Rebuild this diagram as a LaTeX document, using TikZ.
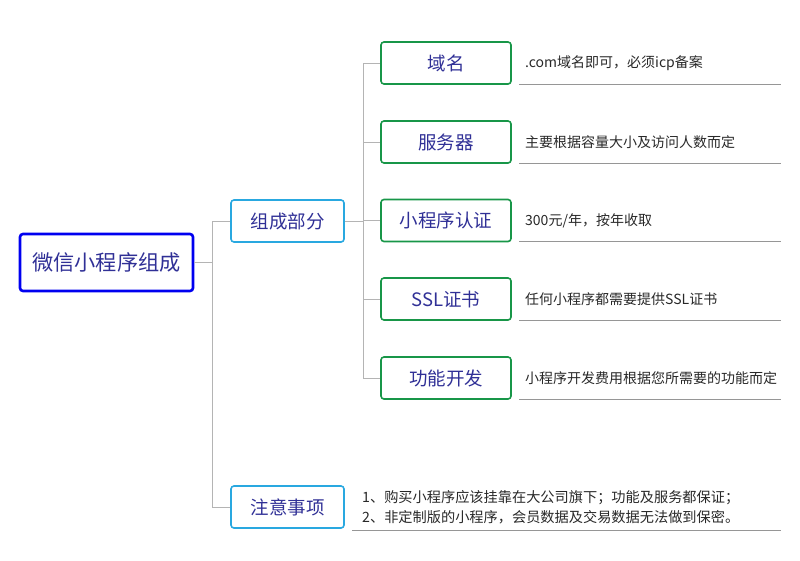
\documentclass[tikz,border=0pt]{standalone}
\usepackage{fontspec}
\setmainfont{Noto Sans CJK SC}
\definecolor{rootblue}{RGB}{0,0,240}
\definecolor{lblue}{RGB}{41,168,224}
\definecolor{mgreen}{RGB}{24,150,72}
\definecolor{ink}{RGB}{48,48,150}
\definecolor{txt}{RGB}{40,40,40}
\definecolor{conn}{RGB}{180,180,180}
\definecolor{uline}{RGB}{150,150,150}
\tikzset{
  rootbox/.style={draw=rootblue,line width=2.6pt,rounded corners=3pt,minimum width=173pt,minimum height=57pt,text=ink,font=\fontsize{21.2}{24}\selectfont,inner sep=0pt},
  midbox/.style={draw=lblue,line width=1.6pt,rounded corners=3pt,minimum width=113pt,minimum height=42pt,text=ink,font=\fontsize{18.5}{20}\selectfont,inner sep=0pt},
  leafbox/.style={draw=mgreen,line width=1.6pt,rounded corners=3pt,minimum width=130pt,minimum height=42pt,text=ink,font=\fontsize{18.5}{20}\selectfont,inner sep=0pt},
  lbl/.style={anchor=west,text=txt,font=\fontsize{14}{16}\selectfont,inner sep=0pt},
  cn/.style={draw=conn,line width=0.8pt},
  ul/.style={draw=uline,line width=0.8pt}
}
\begin{document}
\begin{tikzpicture}[x=1pt,y=-1pt]
\useasboundingbox (0,0) rectangle (800,560);
\node[rootbox] (root) at (106.5,262.5) {微信小程序组成};
\node[midbox] (parts) at (287.5,221) {组成部分};
\node[midbox] (notes) at (287.5,507) {注意事项};
\node[leafbox] (l1) at (446,63) {域名};
\node[leafbox] (l2) at (446,142) {服务器};
\node[leafbox] (l3) at (446,220.5) {小程序认证};
\node[leafbox] (l4) at (446,299) {SSL证书};
\node[leafbox] (l5) at (446,378) {功能开发};
\coordinate (t1) at (212,262.5);
\coordinate (t2) at (363,221);
\draw[cn] (root.east) -- (t1);
\draw[cn] (t1) |- (parts.west);
\draw[cn] (t1) |- (notes.west);
\draw[cn] (parts.east) -- (t2);
\foreach \n in {l1,l2,l3,l4,l5} \draw[cn] (t2) |- (\n.west);
\node[lbl] (d1) at (525,63) {.com域名即可，必须icp备案};
\node[lbl] (d2) at (525,142) {主要根据容量大小及访问人数而定};
\node[lbl] (d3) at (525,220.5) {300元/年，按年收取};
\node[lbl] (d4) at (525,299) {任何小程序都需要提供SSL证书};
\node[lbl] (d5) at (525,378) {小程序开发费用根据您所需要的功能而定};
\foreach \n/\y in {d1/84,d2/163,d3/241.5,d4/320,d5/399} {
  \coordinate (\n a) at (519,\y);
  \coordinate (\n b) at (781,\y);
  \draw[ul] (\n a) -- (\n b);
}
\node[lbl,align=left,font=\fontsize{14.2}{20}\selectfont] (dn) at (362,507) {1、购买小程序应该挂靠在大公司旗下；功能及服务都保证；\\2、非定制版的小程序，会员数据及交易数据无法做到保密。};
\coordinate (una) at (352,530);
\coordinate (unb) at (781,530);
\draw[ul] (una) -- (unb);
\end{tikzpicture}
\end{document}
